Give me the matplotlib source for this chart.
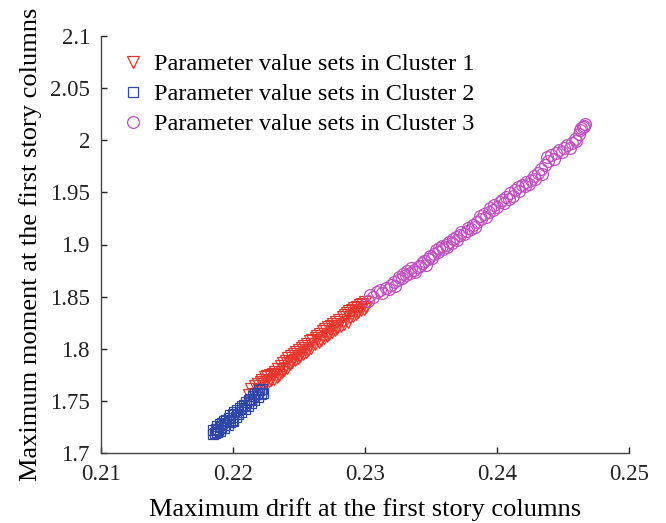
import matplotlib
matplotlib.use("Agg")
import matplotlib.pyplot as plt

plt.rcParams['font.family'] = ['Liberation Serif', 'DejaVu Serif']

# Cluster 2 (blue squares)
x2 = [0.2185, 0.2185, 0.2186, 0.2187, 0.2188, 0.2188, 0.2189, 0.2190, 0.2190, 0.2191,
      0.2192, 0.2193, 0.2193, 0.2194, 0.2195, 0.2196, 0.2197, 0.2198, 0.2198, 0.2199,
      0.2200, 0.2200, 0.2201, 0.2202, 0.2203, 0.2204, 0.2205, 0.2206, 0.2207, 0.2208,
      0.2209, 0.2210, 0.2211, 0.2212, 0.2213, 0.2214, 0.2215, 0.2216, 0.2217, 0.2218,
      0.2219, 0.2220, 0.2221, 0.2222, 0.2223]
y2 = [1.718, 1.722, 1.719, 1.723, 1.720, 1.726, 1.722, 1.728, 1.721, 1.725,
      1.729, 1.724, 1.731, 1.727, 1.732, 1.727, 1.734, 1.730, 1.736, 1.732,
      1.737, 1.731, 1.739, 1.735, 1.741, 1.737, 1.743, 1.739, 1.745, 1.746,
      1.742, 1.749, 1.745, 1.751, 1.752, 1.748, 1.755, 1.751, 1.757, 1.758,
      1.754, 1.760, 1.757, 1.761, 1.758]

# Cluster 1 (red triangles)
x1 = [0.2212, 0.2214, 0.2216, 0.2217, 0.2219, 0.2220, 0.2221, 0.2222, 0.2223, 0.2224,
      0.2225, 0.2226, 0.2227, 0.2228, 0.2229, 0.2230, 0.2231, 0.2232, 0.2233, 0.2234,
      0.2235, 0.2236, 0.2237, 0.2238, 0.2239, 0.2240, 0.2241, 0.2242, 0.2243, 0.2244,
      0.2245, 0.2246, 0.2247, 0.2248, 0.2249, 0.2250, 0.2251, 0.2252, 0.2253, 0.2254,
      0.2255, 0.2256, 0.2257, 0.2258, 0.2259, 0.2260, 0.2262, 0.2263, 0.2264, 0.2265,
      0.2266, 0.2267, 0.2268, 0.2269, 0.2270, 0.2271, 0.2272, 0.2273, 0.2274, 0.2275,
      0.2276, 0.2277, 0.2278, 0.2279, 0.2280, 0.2282, 0.2283, 0.2284, 0.2285, 0.2286,
      0.2287, 0.2288, 0.2289, 0.2290, 0.2291, 0.2292, 0.2293, 0.2294, 0.2295, 0.2296,
      0.2297, 0.2298, 0.2299, 0.2300, 0.2301]
y1 = [1.756, 1.761, 1.757, 1.764, 1.766, 1.760, 1.768, 1.770, 1.764, 1.773,
      1.768, 1.774, 1.769, 1.775, 1.770, 1.776, 1.771, 1.778, 1.773, 1.781,
      1.775, 1.783, 1.778, 1.786, 1.780, 1.788, 1.782, 1.791, 1.785, 1.793,
      1.787, 1.795, 1.789, 1.797, 1.791, 1.799, 1.793, 1.801, 1.795, 1.803,
      1.797, 1.805, 1.799, 1.807, 1.801, 1.808, 1.805, 1.810, 1.812, 1.806,
      1.814, 1.808, 1.817, 1.810, 1.819, 1.812, 1.821, 1.814, 1.822, 1.816,
      1.824, 1.818, 1.826, 1.820, 1.828, 1.822, 1.830, 1.824, 1.832, 1.834,
      1.826, 1.836, 1.830, 1.837, 1.831, 1.839, 1.833, 1.840, 1.835, 1.842,
      1.837, 1.843, 1.838, 1.845, 1.840]

# Cluster 3 (magenta circles)
x3 = [0.2302, 0.2304, 0.2306, 0.2309, 0.2311, 0.2313, 0.2316, 0.2318, 0.2320, 0.2322,
      0.2323, 0.2325, 0.2326, 0.2328, 0.2329, 0.2331, 0.2332, 0.2334, 0.2335, 0.2337,
      0.2338, 0.2340, 0.2342, 0.2343, 0.2345, 0.2346, 0.2348, 0.2349, 0.2351, 0.2352,
      0.2354, 0.2355, 0.2356, 0.2358, 0.2359, 0.2361, 0.2362, 0.2364, 0.2366, 0.2367,
      0.2369, 0.2370, 0.2372, 0.2373, 0.2375, 0.2377, 0.2378, 0.2380, 0.2382, 0.2383,
      0.2385, 0.2387, 0.2388, 0.2390, 0.2392, 0.2394, 0.2395, 0.2397, 0.2398, 0.2400,
      0.2402, 0.2404, 0.2405, 0.2407, 0.2409, 0.2410, 0.2412, 0.2414, 0.2416, 0.2417,
      0.2419, 0.2421, 0.2422, 0.2424, 0.2426, 0.2428, 0.2429, 0.2431, 0.2433, 0.2434,
      0.2436, 0.2438, 0.2439, 0.2441, 0.2443, 0.2445, 0.2447, 0.2449, 0.2451, 0.2453,
      0.2455, 0.2457, 0.2459, 0.2460, 0.2462, 0.2463, 0.2464, 0.2465, 0.2466, 0.2467]
y3 = [1.846, 1.852, 1.850, 1.854, 1.856, 1.853, 1.858, 1.857, 1.861, 1.864,
      1.860, 1.866, 1.869, 1.868, 1.872, 1.871, 1.875, 1.873, 1.877, 1.876,
      1.874, 1.878, 1.879, 1.882, 1.884, 1.880, 1.886, 1.889, 1.887, 1.891,
      1.895, 1.893, 1.897, 1.899, 1.896, 1.900, 1.898, 1.902, 1.901, 1.905,
      1.907, 1.904, 1.909, 1.912, 1.910, 1.913, 1.916, 1.915, 1.919, 1.917,
      1.922, 1.927, 1.924, 1.929, 1.926, 1.931, 1.935, 1.933, 1.938, 1.936,
      1.941, 1.943, 1.940, 1.946, 1.944, 1.949, 1.947, 1.952, 1.955, 1.951,
      1.957, 1.956, 1.960, 1.958, 1.962, 1.966, 1.963, 1.969, 1.972, 1.968,
      1.976, 1.984, 1.980, 1.986, 1.982, 1.988, 1.991, 1.989, 1.993, 1.995,
      1.993, 1.997, 2.001, 1.999, 2.006, 2.010, 2.012, 2.013, 2.014, 2.016]

xticks = [0.21, 0.22, 0.23, 0.24, 0.25]
xticklabels = ['0.21', '0.22', '0.23', '0.24', '0.25']
yticks = [1.7, 1.75, 1.8, 1.85, 1.9, 1.95, 2.0, 2.05, 2.1]
yticklabels = ['1.7', '1.75', '1.8', '1.85', '1.9', '1.95', '2', '2.05', '2.1']

fig = plt.figure(figsize=(6.66, 5.23), dpi=100)
ax = fig.add_axes([101 / 666, 1 - 453 / 523, 528 / 666, 417 / 523])

ax.plot(x1, y1, linestyle='none', marker='v', markersize=8.5, markerfacecolor='none',
        markeredgecolor='#e8342a', markeredgewidth=0.9, label='Parameter value sets in Cluster 1')
ax.plot(x2, y2, linestyle='none', marker='s', markersize=6.5, markerfacecolor='none',
        markeredgecolor='#2f48a8', markeredgewidth=0.9, label='Parameter value sets in Cluster 2')
ax.plot(x3, y3, linestyle='none', marker='o', markersize=8.5, markerfacecolor='none',
        markeredgecolor='#c04fc2', markeredgewidth=0.9, label='Parameter value sets in Cluster 3')

ax.set_xlim(0.21, 0.25)
ax.set_ylim(1.7, 2.1)
ax.set_xticks(xticks)
ax.set_xticklabels(xticklabels)
ax.set_yticks(yticks)
ax.set_yticklabels(yticklabels)
ax.tick_params(direction='in', length=4, width=1, labelsize=16.5, colors='#222222')
ax.tick_params(axis='x', pad=8)
ax.tick_params(axis='y', pad=8)
for s in ['top', 'right']:
    ax.spines[s].set_visible(False)
for s in ['left', 'bottom']:
    ax.spines[s].set_color('#444444')
    ax.spines[s].set_linewidth(1)

ax.set_xlabel('Maximum drift at the first story columns', fontsize=19, labelpad=9)
ax.set_ylabel('Maximum moment at the first story columns', fontsize=19, labelpad=6)

ax.legend(loc='upper left', bbox_to_anchor=(0.0, 1.0), frameon=False, fontsize=17.5,
          handletextpad=0.3, labelspacing=0.33, borderaxespad=0.3, handlelength=1.2)

fig.savefig('out.png', dpi=100)
